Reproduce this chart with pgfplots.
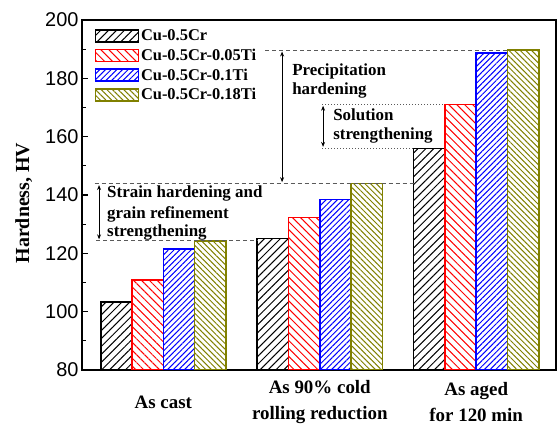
\documentclass[border=0pt]{standalone}
\usepackage{fontspec}
\setmainfont{Liberation Serif}
\setsansfont{Liberation Sans}
\usepackage{pgfplots}
\pgfplotsset{compat=1.18}
\usetikzlibrary{patterns.meta,arrows.meta}
\definecolor{myred}{RGB}{255,0,0}
\definecolor{myblue}{RGB}{0,0,255}
\definecolor{myolive}{RGB}{128,128,0}
\definecolor{dashgray}{RGB}{90,90,90}
\begin{document}
\begin{tikzpicture}
\begin{axis}[
  at={(0,0)}, anchor=south west,
  scale only axis, width=474bp, height=350bp,
  ybar,
  xmin=-0.52, xmax=2.51,
  ymin=80, ymax=200,
  ytick={80,100,...,200},
  minor y tick num=1,
  ytick pos=left,
  xtick={0,1,2},
  xticklabels={As cast, {As 90\% cold\\rolling reduction}, {As aged\\for 120 min}},
  xtick style={draw=none},
  xticklabel style={align=center, anchor=center, yshift=-26bp, font=\fontsize{19}{26}\selectfont\bfseries},
  yticklabel style={font=\fontsize{20}{24}\selectfont\sffamily},
  /pgf/number format/assume math mode=true,
  major tick length=6bp, minor tick length=4bp,
  tick style={line width=1.2bp, black},
  axis line style={line width=1.5bp},
  ylabel={Hardness, HV},
  ylabel style={at={(axis description cs:-0.123,0.477)}, anchor=center, font=\fontsize{20}{24}\selectfont\bfseries},
  legend style={at={(axis description cs:0.026,0.978)}, anchor=north west, draw=none, fill=none, inner sep=0pt,
    font=\fontsize{16.5}{18}\selectfont\bfseries, row sep=2.8bp},
  legend cell align=left,
  legend image code/.code={\draw[#1] (0bp,-6bp) rectangle (43bp,6bp);},
]
\addplot[bar width=0.2, bar shift=-0.3, draw=black, line width=1.5bp,
  pattern={Lines[angle=45,distance=5.6bp,line width=1bp]}, pattern color=black]
  coordinates {(0,103.3) (1,125.1) (2,156.0)};
\addplot[bar width=0.2, bar shift=-0.1, draw=myred, line width=1.5bp,
  pattern={Lines[angle=-45,distance=5.6bp,line width=1bp]}, pattern color=myred]
  coordinates {(0,110.9) (1,132.2) (2,171.1)};
\addplot[bar width=0.2, bar shift=0.1, draw=myblue, line width=1.5bp,
  pattern={Lines[angle=45,distance=4bp,line width=1bp]}, pattern color=myblue]
  coordinates {(0,121.4) (1,138.4) (2,188.6)};
\addplot[bar width=0.2, bar shift=0.3, draw=myolive, line width=1.5bp,
  pattern={Lines[angle=-45,distance=4bp,line width=1bp]}, pattern color=myolive]
  coordinates {(0,124.3) (1,143.9) (2,189.7)};
\legend{Cu-0.5Cr, Cu-0.5Cr-0.05Ti, Cu-0.5Cr-0.1Ti, Cu-0.5Cr-0.18Ti}

% reference lines
\draw[dashgray, line width=1bp, dash pattern=on 4bp off 3bp] (axis cs:-0.44,143.9) -- (axis cs:1.6,143.9);
\draw[dashgray, line width=1bp, dash pattern=on 4bp off 3bp] (axis cs:-0.43,124.3) -- (axis cs:0.6,124.3);
\draw[dashgray, line width=1bp, dash pattern=on 4bp off 3bp] (axis cs:0.65,189.7) -- (axis cs:2.2,189.7);
\draw[dashgray, line width=1bp, dash pattern=on 1.2bp off 1.8bp] (axis cs:1.015,171.1) -- (axis cs:1.8,171.1);
\draw[dashgray, line width=1bp, dash pattern=on 1.2bp off 1.8bp] (axis cs:1.015,156.0) -- (axis cs:1.6,156.0);
% arrows
\draw[line width=0.8bp, {Stealth[length=5bp,width=4bp]}-{Stealth[length=5bp,width=4bp]}] (axis cs:-0.411,143.4) -- (axis cs:-0.411,124.8);
\draw[line width=0.8bp, {Stealth[length=5bp,width=4bp]}-{Stealth[length=5bp,width=4bp]}] (axis cs:0.759,189.2) -- (axis cs:0.759,144.4);
\draw[line width=0.8bp, {Stealth[length=5bp,width=4bp]}-{Stealth[length=5bp,width=4bp]}] (axis cs:1.021,170.6) -- (axis cs:1.021,156.5);
% annotation text
\begin{scope}[every node/.style={anchor=base west, inner sep=0pt, font=\fontsize{17}{20}\selectfont\bfseries}]
\node at (axis cs:-0.36,139.3) {Strain hardening and};
\node at (axis cs:-0.36,132.1) {grain refinement};
\node at (axis cs:-0.36,125.9) {strengthening};
\node at (axis cs:0.823,181.1) {Precipitation};
\node at (axis cs:0.823,174.3) {hardening};
\node at (axis cs:1.085,165.7) {Solution};
\node at (axis cs:1.085,158.9) {strengthening};
\end{scope}
\end{axis}
\pgfresetboundingbox
\path[use as bounding box] (-82bp,-54bp) rectangle (477bp,370bp);
\end{tikzpicture}
\end{document}
